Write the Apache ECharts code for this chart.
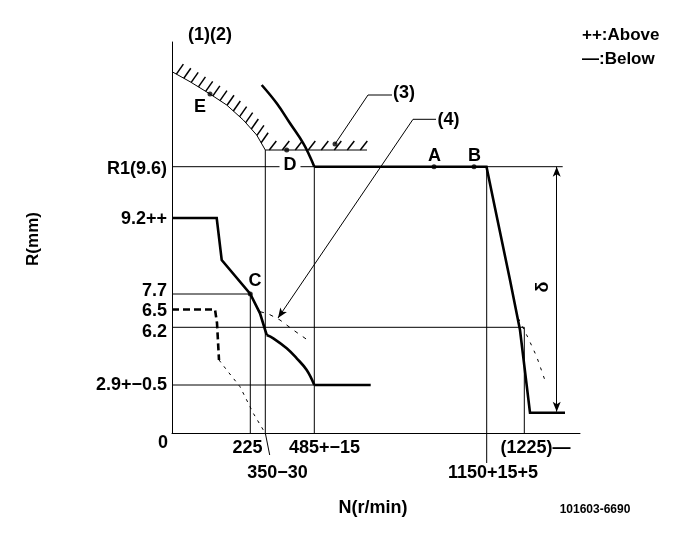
<!DOCTYPE html>
<html><head><meta charset="utf-8">
<script src="https://cdn.jsdelivr.net/npm/echarts@6/dist/echarts.min.js"></script>
<style>html,body{margin:0;padding:0;background:#fff}#c{width:683px;height:538px}</style>
</head><body><div id="c"></div>
<script>
// Schematic diagram units (x: N position, y: R position)
const yTickPos    = [263.5, 214, 142.2, 122, 101, 47.5];
const yTickLabels = ['R1(9.6)', '9.2++', '7.7', '6.5', '6.2', '2.9+−0.5'];
const xTickPos    = [75.5, 152.5, 363.5, 105.5, 321];
const xTickLabels = ['225', '485+−15', '(1225)—', '350−30', '1150+15+5'];
const xTickRow    = [0, 0, 0, 1, 1];

// thin reference lines
const refR1    = [[0, 266.3], [390.7, 266.3]];
const ref77    = [[0, 139], [78.3, 139]];
const ref62    = [[0, 105.7], [352.3, 105.7]];
const ref29    = [[0, 48], [142.3, 48]];
const vert225  = [[78.3, 0], [78.3, 139]];
const vert350  = [[97.7, -22], [93.3, 0], [93.3, 283]];
const vert485  = [[142.3, 0], [142.3, 266.3]];
const vert1150 = [[314.7, -30], [314.7, 266.3]];
const vert1225 = [[352.3, 0], [352.3, 105.7]];

// heavy curves
const lowStep   = [[0, 215], [44.7, 215], [49.7, 173], [78.3, 139], [88, 119.7], [94.7, 98]];
const lowArc    = [[94.7, 98], [101.3, 94.7], [114.7, 84.7], [124.7, 74.7], [134.7, 63], [142.3, 48]];
const lowFoot   = [[142.3, 48], [198.7, 48]];
const highArc   = [[89.7, 348], [104.7, 329.7], [118, 309.7], [131.3, 289.7], [138, 276.3], [142.3, 266.3]];
const highFlat  = [[142.3, 266.3], [314.5, 266.3], [323, 225], [338, 153], [348, 103], [358, 20.3], [393, 20.3]];

// "below" (dashed) curves
const belowLeftThick = [[0, 123.5], [43, 123.5], [45, 110], [47, 73]];
const belowLeftThin  = [[47, 73], [54.7, 63], [68, 46.3], [81.3, 19.7], [91.3, 3], [93, 0]];
const curve4         = [[88, 121.3], [96, 119.3], [108, 113], [121.3, 103], [138, 91.3]];
const belowRight     = [[346.3, 114.7], [356.3, 94.7], [364.7, 76.3], [374, 49.7]];

// hatched limit lines (E curve and (3) line)
const hatchCurve = [[0, 361.3], [18, 351.3], [38, 339], [54.7, 328], [71.3, 313], [84.7, 298], [93.3, 283]];
const hatchFlat  = [[93.3, 283], [195, 283]];

// leaders and dimension
const leader3H = [[196, 338], [220, 338]];
const leader3D = [[196, 338], [163, 289]];
const leader4H = [[241, 313.7], [264, 313.7]];
const leader4Arrow = [[241, 313.7], [106, 115]];
const deltaDim = [[384.7, 266.3], [384.7, 21.3]];

// points and labels
const dots = [[38, 339], [114.7, 283], [163, 289], [262, 266.3], [302, 266.3], [78.3, 139]];
const pointLabels = ['A', 'B', 'C', 'D', 'E', '(3)', '(4)', 'δ'];
const pointLabelPos = [[262.5, 277], [302.5, 277], [83, 151.5], [118, 268], [28, 325.5], [232, 340], [276.5, 313], [371, 146]];

const FONT = "'Liberation Sans',Arial,sans-serif";

function seg(data, width, dash, clip, smooth) {
  return { type: 'line', data: data, symbol: 'none', silent: true, clip: clip !== false, smooth: smooth || false,
    lineStyle: { color: '#000', width: width, type: dash || 'solid', cap: 'butt', join: 'miter' }, z: width > 1.5 ? 3 : 2 };
}
function hatchSeries(points, spacing, vec, start) {
  return {
    type: 'custom', coordinateSystem: 'cartesian2d', silent: true, clip: false, data: [[0, 0]],
    renderItem: function (params, api) {
      const px = points.map(p => api.coord(p));
      const children = [{ type: 'polyline', shape: { points: px }, style: { stroke: '#000', lineWidth: 1, fill: null } }];
      let carry = start;
      for (let i = 0; i < px.length - 1; i++) {
        const x0 = px[i][0], y0 = px[i][1], x1 = px[i + 1][0], y1 = px[i + 1][1];
        const len = Math.hypot(x1 - x0, y1 - y0);
        let t = carry;
        while (t <= len) {
          const x = x0 + (x1 - x0) * t / len, y = y0 + (y1 - y0) * t / len;
          children.push({ type: 'line', shape: { x1: x, y1: y, x2: x + vec[0], y2: y + vec[1] }, style: { stroke: '#000', lineWidth: 1.5 } });
          t += spacing;
        }
        carry = t - len;
      }
      return { type: 'group', children: children };
    }
  };
}
function arrowLine(pair, symbols) {
  return { type: 'line', data: [], silent: true,
    markLine: { silent: true, animation: false, symbol: symbols, symbolSize: [6, 10],
      lineStyle: { color: '#000', width: 1, type: 'solid' }, label: { show: false },
      data: [[{ coord: pair[0] }, { coord: pair[1] }]] } };
}

const chart = echarts.init(document.getElementById('c'), null, { renderer: 'canvas' });
const labelData = pointLabels.map((t, i) => ({
  value: pointLabelPos[i],
  label: t === 'D' ? { formatter: t, backgroundColor: '#fff', padding: [0, 4] } :
         t === 'δ' ? { formatter: t, rotate: 90 } : { formatter: t }
}));

chart.setOption({
  animation: false,
  backgroundColor: '#fff',
  grid: { left: 172, top: 42, width: 408, height: 391 },
  xAxis: {
    type: 'value', min: 0, max: 408,
    axisLine: { show: true, lineStyle: { color: '#000', width: 1 } },
    axisTick: { show: false }, splitLine: { show: false },
    axisLabel: {
      customValues: xTickPos, margin: 3, color: '#000', fontFamily: FONT, fontWeight: 'bold', fontSize: 18, lineHeight: 25,
      formatter: function (v) { const i = xTickPos.findIndex(p => Math.abs(p - v) < 1e-6); return i < 0 ? '' : (xTickRow[i] ? '\n' : '') + xTickLabels[i]; }
    }
  },
  yAxis: {
    type: 'value', min: 0, max: 391,
    axisLine: { show: true, lineStyle: { color: '#000', width: 1 } },
    axisTick: { show: false }, splitLine: { show: false },
    axisLabel: {
      customValues: yTickPos, margin: 5, color: '#000', fontFamily: FONT, fontWeight: 'bold', fontSize: 18,
      formatter: function (v) { const i = yTickPos.findIndex(p => Math.abs(p - v) < 1e-6); return i < 0 ? '' : yTickLabels[i]; }
    }
  },
  graphic: [
    { type: 'text', left: 188, top: 26, style: { text: '(1)(2)', font: 'bold 18px ' + FONT, fill: '#000' } },
    { type: 'text', left: 582, top: 27, style: { text: '++:Above', font: 'bold 17px ' + FONT, fill: '#000' } },
    { type: 'text', left: 582, top: 51, style: { text: '—:Below', font: 'bold 17px ' + FONT, fill: '#000' } },
    { type: 'text', x: 33, y: 239, rotation: Math.PI / 2, style: { text: 'R(mm)', font: 'bold 17px ' + FONT, fill: '#000', align: 'center', verticalAlign: 'middle' } },
    { type: 'text', x: 373, y: 508, style: { text: 'N(r/min)', font: 'bold 18px ' + FONT, fill: '#000', align: 'center', verticalAlign: 'middle' } },
    { type: 'text', x: 595, y: 510, style: { text: '101603-6690', font: 'bold 12px ' + FONT, fill: '#000', align: 'center', verticalAlign: 'middle' } },
    { type: 'text', x: 163, y: 443, style: { text: '0', font: 'bold 18px ' + FONT, fill: '#000', align: 'center', verticalAlign: 'middle' } }
  ],
  series: [
    seg(refR1, 1), seg(ref77, 1), seg(ref62, 1), seg(ref29, 1),
    seg(vert225, 1), seg(vert350, 1, 'solid', false), seg(vert485, 1), seg(vert1150, 1, 'solid', false), seg(vert1225, 1),
    seg(lowStep, 2.6), seg(lowArc, 2.6, 'solid', true, 0.4), seg(lowFoot, 2.6),
    seg(highArc, 2.6, 'solid', true, 0.4), seg(highFlat, 2.6),
    seg(belowLeftThick, 2.6, [7, 4]), seg(belowLeftThin, 1, [3, 5]), seg(curve4, 1, [4, 6]), seg(belowRight, 1, [3, 6]),
    hatchSeries(hatchCurve, 8.5, [7, -10], 5), hatchSeries(hatchFlat, 13, [7, -9], 4),
    seg(leader3H, 1), seg(leader3D, 1), seg(leader4H, 1),
    arrowLine(leader4Arrow, ['none', 'arrow']),
    arrowLine(deltaDim, ['arrow', 'arrow']),
    { type: 'scatter', data: dots, symbol: 'circle', symbolSize: 5, itemStyle: { color: '#000' }, silent: true, z: 5 },
    { type: 'scatter', data: labelData, symbolSize: 1, silent: true, z: 6, itemStyle: { color: 'rgba(0,0,0,0)' },
      label: { show: true, position: 'inside', color: '#000', textBorderWidth: 0, textBorderColor: 'transparent', opacity: 1,
        fontFamily: FONT, fontWeight: 'bold', fontSize: 18 } }
  ]
});
</script></body></html>
